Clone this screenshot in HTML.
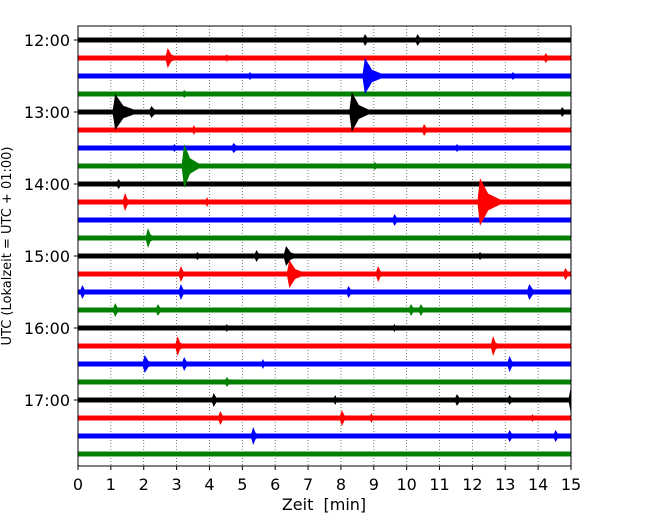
<!DOCTYPE html>
<html><head><meta charset="utf-8"><style>
body{margin:0;background:#fff;}
svg{display:block;font-family:"DejaVu Sans","Liberation Sans",sans-serif;}
</style></head><body>
<svg id="chart" width="650" height="520" viewBox="0 0 650 520">
<g id="grid"></g>
<g id="traces"></g>
<rect x="78" y="26" width="493" height="440" fill="none" stroke="#000" stroke-width="1"/>
<g id="axes"></g>
<text x="324" y="510" font-size="16" text-anchor="middle" xml:space="preserve">Zeit  [min]</text>
<text transform="translate(11,246) rotate(-90)" font-size="13" text-anchor="middle">UTC (Lokalzeit = UTC + 01:00)</text>
</svg>
<script>
const xTicks=[0,1,2,3,4,5,6,7,8,9,10,11,12,13,14,15];
const hourLabels=["12:00","13:00","14:00","15:00","16:00","17:00"];
const rowColors=["#000000","#ff0000","#0000ff","#008000"];
const rowCount=24;
// events: [row, minute, amplitude(px), duration(min)]
const eventRows=[0,0,1,1,1,2,2,2,3,4,4,4,4,5,5,6,6,6,7,7,8,8,9,9,9,10,11,12,12,12,12,13,13,13,13,14,14,14,14,15,15,15,15,16,16,17,17,18,18,18,18,19,20,20,20,20,20,21,21,21,21,22,22,22];
const eventMinutes=[8.7,10.3,2.7,4.5,14.2,8.7,5.2,13.2,3.2,1.1,2.2,8.3,14.7,3.5,10.5,2.9,4.7,11.5,3.2,9.0,1.2,5.0,1.4,3.9,12.2,9.6,2.1,3.6,5.4,6.3,12.2,3.1,6.4,9.1,14.8,0.1,3.1,8.2,13.7,1.1,2.4,10.1,10.4,4.5,9.6,3.0,12.6,2.0,3.2,5.6,13.1,4.5,4.1,7.8,11.5,13.1,14.97,4.3,8.0,8.9,13.8,5.3,13.1,14.5];
const eventAmps=[6,6,10,4,5,18,4,4,4,18,6,20,5,5,6,4,5,4,22,4,5,3,9,5,24,6,10,4,6,10,4,8,14,8,6,7,8,6,8,7,6,6,6,4,4,10,10,9,7,5,8,5,7,5,6,5,14,7,8,5,4,9,6,6];
const eventDurs=[0.3,0.3,0.4,0.2,0.3,0.7,0.3,0.3,0.3,0.8,0.4,0.7,0.3,0.2,0.3,0.3,0.4,0.3,0.6,0.3,0.3,0.2,0.3,0.2,0.8,0.3,0.3,0.3,0.3,0.5,0.3,0.3,0.6,0.3,0.3,0.3,0.3,0.3,0.4,0.3,0.3,0.3,0.3,0.2,0.2,0.3,0.3,0.4,0.3,0.2,0.3,0.3,0.3,0.2,0.3,0.3,0.05,0.3,0.3,0.2,0.2,0.3,0.3,0.3];

const NS="http://www.w3.org/2000/svg";
const x0=78,x1=571,y0=40,rowH=18;
const xS=m=>x0+(m-0)/(15-0)*(x1-x0);
const yS=r=>y0+r*rowH;
function mk(tag,attrs,parent){const e=document.createElementNS(NS,tag);for(const k in attrs)e.setAttribute(k,attrs[k]);parent.appendChild(e);return e;}
const grid=document.getElementById('grid'),tr=document.getElementById('traces'),ax=document.getElementById('axes');
xTicks.forEach(t=>{
  const l=mk('line',{x1:xS(t),x2:xS(t),y1:26,y2:466,stroke:'#555','stroke-width':0.8,'stroke-dasharray':'1,2'},grid);
  
  
  const tk=mk('line',{x1:xS(t),x2:xS(t),y1:466,y2:470,stroke:'#000'},ax);
  
  
  const tx=mk('text',{x:xS(t),y:490,'font-size':16,'text-anchor':'middle'},ax);
  tx.textContent=t;
  
  
});
hourLabels.forEach((h,i)=>{
  const y=yS(i*4);
  const tk=mk('line',{x1:74,x2:78,y1:y,y2:y,stroke:'#000'},ax);
  
  
  const tx=mk('text',{x:70,y:y+6,'font-size':16,'text-anchor':'end'},ax);
  tx.textContent=h;
  
  
});
for(let r=0;r<rowCount;r++){
  const c=rowColors[r%4];
  const l=mk('rect',{x:x0,y:yS(r)-2.5,width:x1-x0,height:5,fill:c},tr);
  
  
}
eventRows.forEach((r,i)=>{
  const c=rowColors[r%4],m=eventMinutes[i],a=eventAmps[i],d=eventDurs[i];
  const y=yS(r),xa=xS(m-0.05),xp=xS(m+0.03),xm=xS(m+d*0.35),xe=Math.min(xS(m+d),x1);
  const pts=[[xa,y],[xp,y-a],[xm,y-a*0.35],[xe,y],[xm,y+a*0.35],[xp,y+a]].map(p=>p.join(',')).join(' ');
  const p=mk('polygon',{points:pts,fill:c},tr);
  
  
});
</script>
</body></html>
